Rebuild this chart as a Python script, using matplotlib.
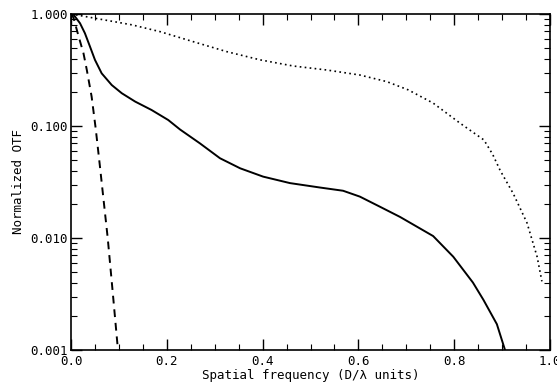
import numpy as np
import matplotlib
matplotlib.use('Agg')
import matplotlib.pyplot as plt
from matplotlib.ticker import FixedLocator, FormatStrFormatter, LogLocator, NullFormatter

# values
solid_x = [0.0, 0.005, 0.0188, 0.029, 0.0397, 0.050, 0.064, 0.085, 0.106, 0.134, 0.168, 0.203,
           0.2276, 0.269, 0.311, 0.353, 0.401, 0.457, 0.52, 0.568, 0.603, 0.645, 0.687,
           0.756, 0.798, 0.839, 0.861, 0.889, 0.906]
solid_y = [1.0, 0.99, 0.826, 0.673, 0.51, 0.389, 0.295, 0.232, 0.196, 0.165, 0.139, 0.113,
           0.093, 0.070, 0.0515, 0.0419, 0.0353, 0.0309, 0.0282, 0.0264, 0.0234, 0.019, 0.0154,
           0.0104, 0.0068, 0.004, 0.0028, 0.0017, 0.001]

dotted_x = [0.0, 0.127, 0.186, 0.255, 0.325, 0.395, 0.464, 0.534, 0.603, 0.659, 0.704,
            0.756, 0.812, 0.862, 0.88, 0.896, 0.923, 0.952, 0.973, 0.983]
dotted_y = [1.0, 0.80, 0.695, 0.566, 0.461, 0.389, 0.343, 0.316, 0.285, 0.249, 0.21,
            0.16, 0.106, 0.075, 0.056, 0.04, 0.025, 0.0136, 0.0068, 0.0041]

dashed_x = [0.0, 0.005, 0.015, 0.026, 0.033, 0.043, 0.0515, 0.06, 0.0766, 0.087, 0.098]
dashed_y = [1.0, 0.93, 0.65, 0.446, 0.316, 0.183, 0.095, 0.045, 0.01, 0.0033, 0.001]

x_ticks = [0.0, 0.2, 0.4, 0.6, 0.8, 1.0]
y_ticks = [0.001, 0.01, 0.1, 1.0]

plt.rcParams['font.family'] = ['DejaVu Sans Mono']
plt.rcParams['font.size'] = 9

fig = plt.figure(figsize=(5.57, 3.88), dpi=100)
ax = fig.add_axes([0.1275, 0.098, 0.86, 0.866])

ax.plot(solid_x, solid_y, color='black', lw=1.4, ls='-')
ax.plot(dotted_x, dotted_y, color='black', lw=1.2, ls=(0, (1, 2)))
ax.plot(dashed_x, dashed_y, color='black', lw=1.4, ls=(0, (4, 3)))

ax.set_yscale('log')
ax.set_xlim(0, 1)
ax.set_ylim(0.001, 1.0)

ax.xaxis.set_major_locator(FixedLocator(x_ticks))
ax.xaxis.set_minor_locator(FixedLocator(np.arange(0, 1.001, 0.05)))
ax.xaxis.set_major_formatter(FormatStrFormatter('%.1f'))
ax.yaxis.set_major_locator(FixedLocator(y_ticks))
ax.yaxis.set_major_formatter(FormatStrFormatter('%.3f'))
ax.yaxis.set_minor_locator(LogLocator(base=10, subs=np.arange(2, 10)))
ax.yaxis.set_minor_formatter(NullFormatter())

ax.tick_params(which='both', direction='in', top=True, right=True)
ax.tick_params(which='major', length=8, width=1)
ax.tick_params(which='minor', length=4, width=0.8)
ax.tick_params(axis='y', pad=2)

for s in ax.spines.values():
    s.set_linewidth(1.2)

ax.set_xlabel('Spatial frequency (D/λ units)', labelpad=1)
ax.set_ylabel('Normalized OTF', labelpad=4)

fig.savefig('out.png', dpi=100)
